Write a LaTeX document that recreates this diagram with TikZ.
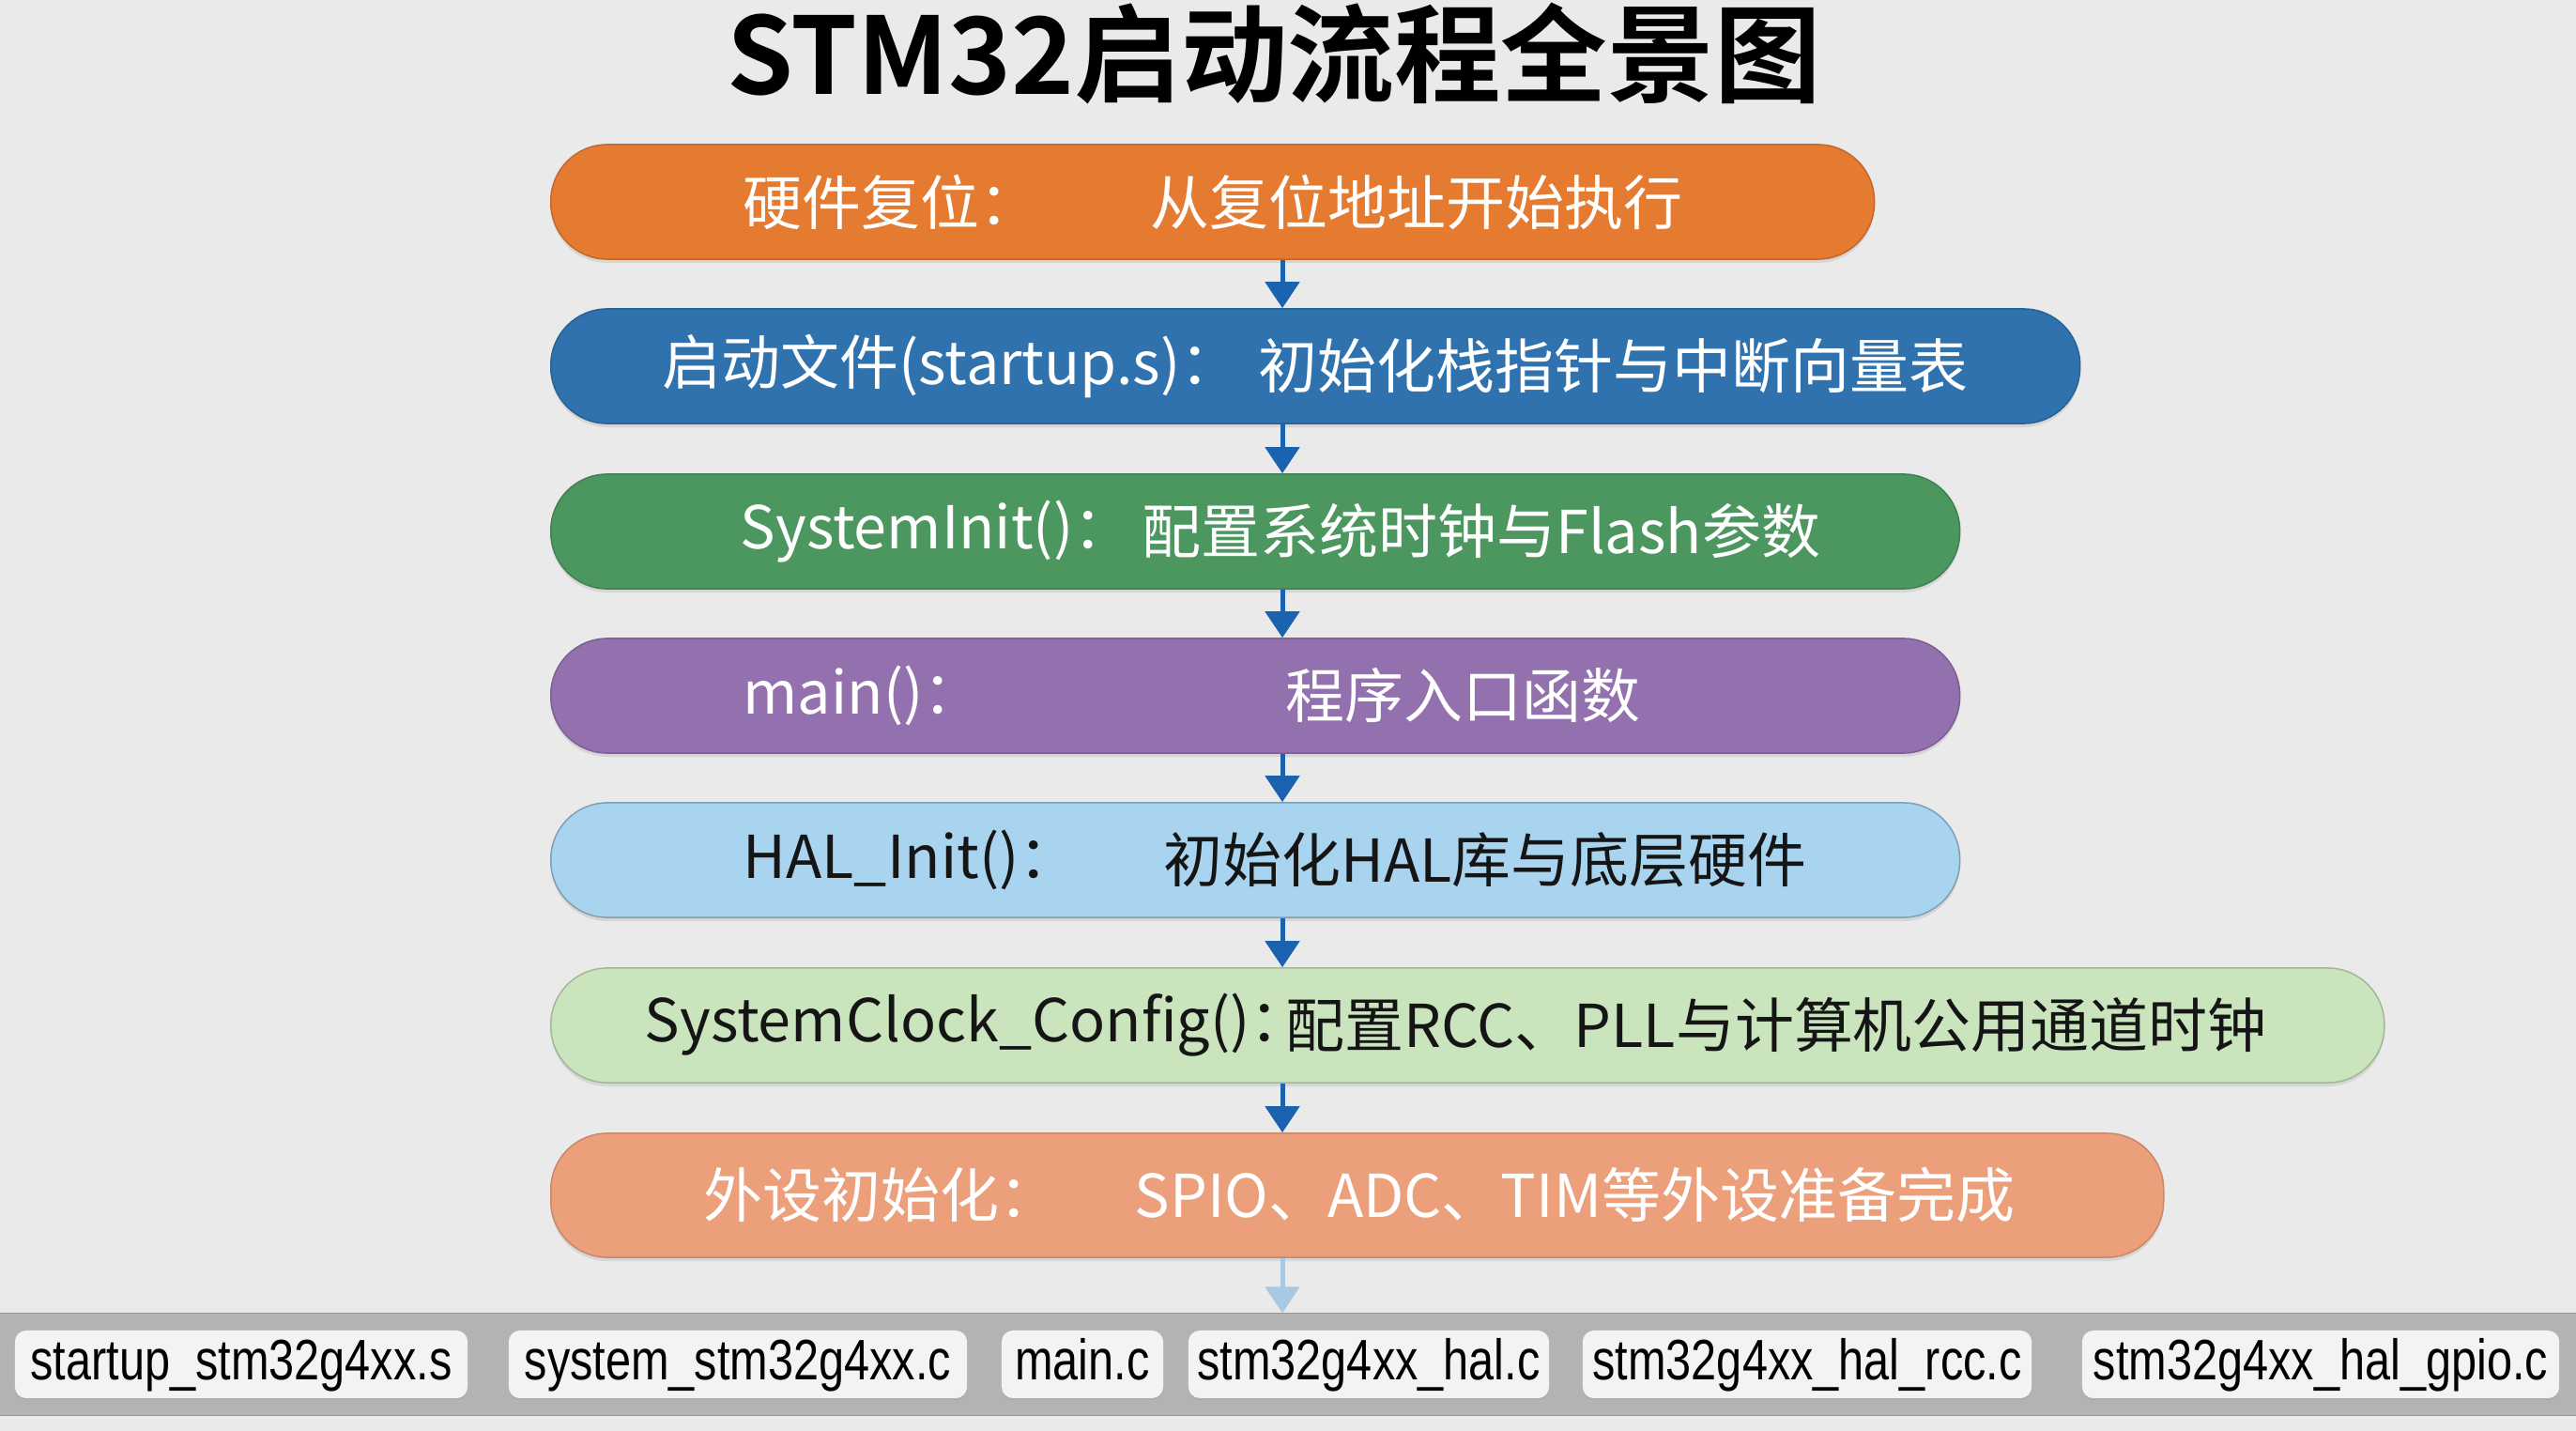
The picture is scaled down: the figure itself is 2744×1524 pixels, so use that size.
\documentclass[tikz,border=0pt]{standalone}
\usepackage{fontspec}
\setmainfont{Noto Sans CJK SC}[BoldFont={Noto Sans CJK SC Bold}]
\newfontfamily\filefont{Liberation Sans}[FakeStretch=0.8]
\usetikzlibrary{arrows.meta,shadows}

\definecolor{bgcol}{HTML}{EAEAEA}
\definecolor{resetcol}{HTML}{E57A31}
\definecolor{startcol}{HTML}{2F72AE}
\definecolor{sysinitcol}{HTML}{4C9760}
\definecolor{maincol}{HTML}{9370AE}
\definecolor{halcol}{HTML}{A9D4EF}
\definecolor{clockcol}{HTML}{CAE5BE}
\definecolor{periphcol}{HTML}{EBA07B}
\definecolor{arrowcol}{HTML}{1B63AE}
\definecolor{fadecol}{HTML}{A9C9E3}
\definecolor{barcol}{HTML}{B3B3B3}
\definecolor{chipcol}{HTML}{F3F3F3}
\definecolor{darktext}{HTML}{151515}

\newcommand{\titlefont}{\fontsize{32.3}{37}\selectfont\bfseries}
\newcommand{\stagefont}{\fontsize{17.9}{21}\selectfont}
\newcommand{\chipfont}{\filefont\fontsize{17.3}{20}\selectfont}

\tikzset{
  stage/.style 2 args = {shape = rectangle, anchor = west, inner sep = 0pt,
    rounded corners = 0.6cm, minimum height = 1.22cm, fill = #1, draw = #2,
    line width = 0.015cm,
    drop shadow = {opacity = 0.18, shadow xshift = 0cm, shadow yshift = -0.04cm}},
  lbl/.style = {anchor = west, inner sep = 0pt, font = \stagefont, text = white},
  lbldark/.style = {lbl, text = darktext},
  flow/.style = {draw = arrowcol, line width = 0.05cm,
    -{Triangle[width = 0.36cm, length = 0.28cm]}},
  chip/.style = {shape = rectangle, rounded corners = 0.12cm, fill = chipcol,
    minimum height = 0.72cm, inner sep = 0pt, font = \chipfont,
    text height = 0.44cm, text depth = 0.12cm,
    drop shadow = {opacity = 0.12, shadow xshift = 0cm, shadow yshift = -0.02cm}},
}

\begin{document}
\begin{tikzpicture}[x = 0.01cm, y = -0.01cm]
        \useasboundingbox (0, 0) rectangle (2744, 1524);
        \fill[bgcol] (0, 0) rectangle (2744, 1524);

        % ------------------------------------------------------------------------
        % Title
        \node[inner sep = 0pt, font = \titlefont] at (1357, 57) (title) {STM32启动流程全景图};

        \coordinate (axis) at (1366, 0);

        % ------------------------------------------------------------------------
        % Stages
        \node[stage = {resetcol}{resetcol!85!black},    minimum width = 14.09cm] at (586,  215) (reset) {};
        \node[stage = {startcol}{startcol!85!black},    minimum width = 16.28cm] at (586,  390) (startup) {};
        \node[stage = {sysinitcol}{sysinitcol!85!black}, minimum width = 15.00cm] at (586,  566) (sysinit) {};
        \node[stage = {maincol}{maincol!85!black},      minimum width = 15.00cm] at (586,  741) (mainfn) {};
        \node[stage = {halcol}{halcol!75!black},        minimum width = 15.00cm] at (586,  916) (halinit) {};
        \node[stage = {clockcol}{clockcol!80!black},    minimum width = 19.52cm] at (586, 1092) (clock) {};
        \node[stage = {periphcol}{periphcol!85!black},  minimum width = 17.17cm, minimum height = 1.32cm] at (586, 1273) (periph) {};

        \node[lbl] at ( 791,  215) (resetL)   {硬件复位：};
        \node[lbl] at (1225,  215) (resetR)   {从复位地址开始执行};

        \node[lbl] at ( 705,  390) (startupL) {启动文件(startup.s)：};
        \node[lbl] at (1340,  390) (startupR) {初始化栈指针与中断向量表};

        \node[lbl] at ( 788,  566) (sysinitL) {SystemInit()：};
        \node[lbl] at (1216,  566) (sysinitR) {配置系统时钟与Flash参数};

        \node[lbl] at ( 791,  741) (mainL)    {main()：};
        \node[lbl] at (1369,  741) (mainR)    {程序入口函数};

        \node[lbldark] at ( 791,  916) (halL) {HAL\_Init()：};
        \node[lbldark] at (1239,  916) (halR) {初始化HAL库与底层硬件};

        \node[lbldark] at ( 686, 1092) (clockL) {SystemClock\_Config()：};
        \node[lbldark] at (1369, 1092) (clockR) {配置RCC、PLL与计算机公用通道时钟};

        \node[lbl] at ( 749, 1273) (periphL)  {外设初始化：};
        \node[lbl] at (1208, 1273) (periphR)  {SPIO、ADC、TIM等外设准备完成};

        % ------------------------------------------------------------------------
        % Source files
        \node[shape = rectangle, fill = barcol, draw = barcol!85!black, line width = 0.01cm,
              minimum width = 27.6cm, minimum height = 1.08cm] at (1372, 1453) (bar) {};

        \node[chip, minimum width = 4.82cm] at ( 257, 1453) (fstartup) {startup\_stm32g4xx.s};
        \node[chip, minimum width = 4.88cm] at ( 786, 1453) (fsystem)  {system\_stm32g4xx.c};
        \node[chip, minimum width = 1.72cm] at (1153, 1453) (fmain)    {main.c};
        \node[chip, minimum width = 3.84cm] at (1458, 1453) (fhal)     {stm32g4xx\_hal.c};
        \node[chip, minimum width = 4.78cm] at (1925, 1453) (frcc)     {stm32g4xx\_hal\_rcc.c};
        \node[chip, minimum width = 5.08cm] at (2472, 1453) (fgpio)    {stm32g4xx\_hal\_gpio.c};

        % ------------------------------------------------------------------------
        % Flow
        \draw[flow] (reset.south -| axis)   -- (startup.north -| axis);
        \draw[flow] (startup.south -| axis) -- (sysinit.north -| axis);
        \draw[flow] (sysinit.south -| axis) -- (mainfn.north -| axis);
        \draw[flow] (mainfn.south -| axis)  -- (halinit.north -| axis);
        \draw[flow] (halinit.south -| axis) -- (clock.north -| axis);
        \draw[flow] (clock.south -| axis)   -- (periph.north -| axis);
        \draw[flow, draw = fadecol] (periph.south -| axis) -- (bar.north -| axis);
      \end{tikzpicture}
\end{document}
